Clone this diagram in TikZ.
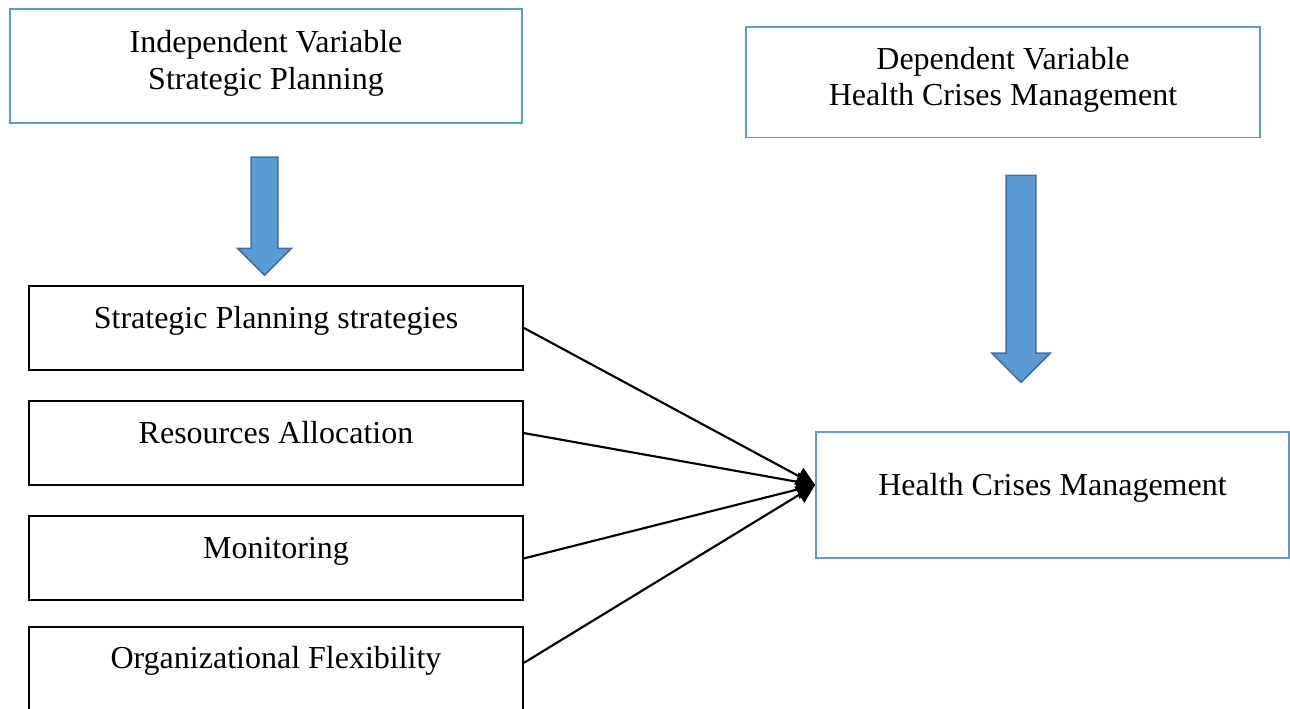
\documentclass[tikz,border=0pt]{standalone}
\usepackage{fontspec}
\setmainfont{Liberation Serif}
\usepackage{tikz}
\usetikzlibrary{positioning, shapes.arrows, arrows.meta}
\definecolor{boxblue}{HTML}{5B9BD5}
\definecolor{arrowedge}{HTML}{41719C}

\begin{document}
\begin{tikzpicture}[
    x=0.375pt, y=-0.375pt,
    on grid,
    font=\fontsize{12}{13}\selectfont,
    varbox/.style={draw=boxblue, align=center, font=\fontsize{12}{13.6}\selectfont, text depth=4.5pt},
    itembox/.style={draw=black, line width=0.75pt, minimum width=185.25pt, minimum height=31.5pt, text height=8pt, text depth=8pt},
    blockarrow/.style={single arrow, fill=boxblue, draw=arrowedge, line width=0.6pt, rotate=-90, inner xsep=0pt, single arrow head indent=0pt},
    link/.style={-{Triangle[length=7pt,width=7pt]}, line width=0.8pt}
]
    \useasboundingbox (0,0) rectangle (1290,709);

    % Variables
    \node[varbox, line width=0.75pt, minimum width=192pt, minimum height=42.75pt] (indep) at (266,66) {Independent Variable\\Strategic Planning};
    \node[varbox, line width=0.4pt, minimum width=192.75pt, minimum height=41.6pt] (dep) at (1003,82.5) {Dependent Variable\\Health Crises Management};

    % Block arrows
    \node[blockarrow, minimum height=44.25pt, inner ysep=4.7pt, single arrow head extend=5.06pt] (indeparrow) at (264.5,209.5) {};
    \node[blockarrow, minimum height=77.6pt, inner ysep=5.25pt, single arrow head extend=5.4pt] (deparrow) at (1021,271.5) {};

    % Dimensions
    \node[itembox] (strategies) at (276,328) {Strategic Planning strategies};
    \node[itembox, below=43.3pt of strategies] (resources) {Resources Allocation};
    \node[itembox, below=43.1pt of resources] (monitoring) {Monitoring};
    \node[itembox, below=41.4pt of monitoring] (flexibility) {Organizational Flexibility};

    % Outcome
    \node[draw=boxblue, line width=0.6pt, minimum width=177.4pt, minimum height=47.25pt, text height=8pt, text depth=8pt] (crises) at (1052.5,495) {Health Crises Management};
    \coordinate[above=3.75pt of crises.west] (target);

    % Links
    \draw[link] (strategies.east) -- (target);
    \draw[link] ([yshift=3.9pt]resources.east) -- (target);
    \draw[link] (monitoring.east) -- (target);
    \draw[link] ([yshift=2.25pt]flexibility.east) -- (target);
\end{tikzpicture}
\end{document}
